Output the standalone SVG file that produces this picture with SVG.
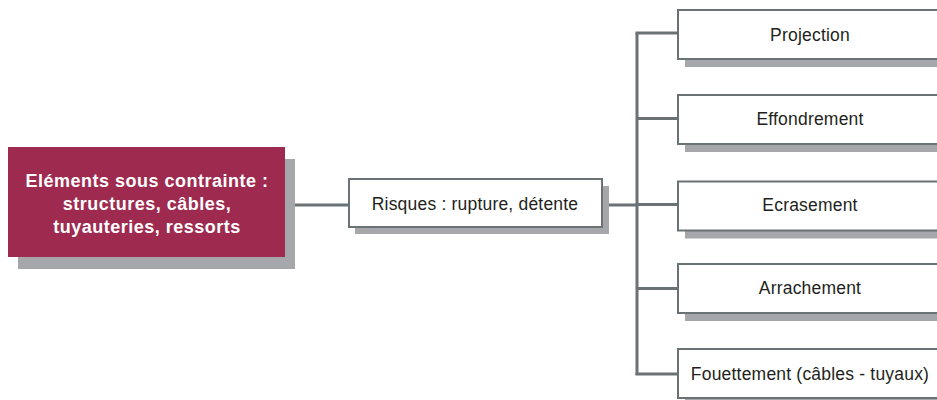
<svg xmlns="http://www.w3.org/2000/svg" width="937" height="400" viewBox="0 0 937 400">
  <style>
    .shadow { fill: #a6a7aa; }
    .box { fill: #ffffff; stroke: #6b7275; stroke-width: 2; }
    .main { fill: #9e2b4f; }
    .link { fill: none; stroke: #6b7275; stroke-width: 3; }
    .label { font-family: "Liberation Sans", Arial, sans-serif; font-size: 17.5px; letter-spacing: 0.2px; fill: #231f20; text-anchor: middle; }
    .title { font-family: "Liberation Sans", Arial, sans-serif; font-size: 18px; font-weight: bold; letter-spacing: 0.5px; fill: #ffffff; text-anchor: middle; }
  </style>

  <!-- connectors -->
  <g id="connectors">
    <line class="link" x1="285" y1="205" x2="348" y2="205"/>
    <line class="link" x1="602" y1="205" x2="637" y2="205"/>
    <line class="link" x1="637" y1="33" x2="637" y2="375"/>
    <line class="link" x1="635.5" y1="33" x2="677" y2="33"/>
    <line class="link" x1="637" y1="118.5" x2="677" y2="118.5"/>
    <line class="link" x1="637" y1="204.5" x2="677" y2="204.5"/>
    <line class="link" x1="637" y1="288.5" x2="677" y2="288.5"/>
    <line class="link" x1="635.5" y1="374" x2="677" y2="374"/>
  </g>

  <!-- root: stressed elements -->
  <g id="node-elements">
    <rect class="shadow" x="18" y="159" width="277" height="110"/>
    <rect class="main" x="8" y="147" width="277" height="110"/>
    <text class="title" x="147" y="187">Eléments sous contrainte :</text>
    <text class="title" x="147" y="210">structures, câbles,</text>
    <text class="title" x="147" y="233">tuyauteries, ressorts</text>
  </g>

  <!-- risks -->
  <g id="node-risques">
    <rect class="shadow" x="355" y="186" width="254" height="48"/>
    <rect class="box" x="349" y="179" width="253" height="48"/>
    <text class="label" x="475" y="209.5">Risques : rupture, détente</text>
  </g>

  <!-- consequences -->
  <g id="node-projection">
    <rect class="shadow" x="685" y="18" width="270" height="49"/>
    <rect class="box" x="678" y="10" width="270" height="49"/>
    <text class="label" x="810" y="40.5">Projection</text>
  </g>

  <g id="node-effondrement">
    <rect class="shadow" x="685" y="103" width="270" height="49"/>
    <rect class="box" x="678" y="95" width="270" height="49"/>
    <text class="label" x="810" y="125">Effondrement</text>
  </g>

  <g id="node-ecrasement">
    <rect class="shadow" x="685" y="189.5" width="270" height="49"/>
    <rect class="box" x="678" y="181.5" width="270" height="49"/>
    <text class="label" x="810" y="211">Ecrasement</text>
  </g>

  <g id="node-arrachement">
    <rect class="shadow" x="685" y="272" width="270" height="49"/>
    <rect class="box" x="678" y="264" width="270" height="49"/>
    <text class="label" x="810" y="294">Arrachement</text>
  </g>

  <g id="node-fouettement">
    <rect class="shadow" x="685" y="357" width="270" height="49"/>
    <rect class="box" x="678" y="349" width="270" height="49"/>
    <text class="label" x="810" y="379.5">Fouettement (câbles - tuyaux)</text>
  </g>
</svg>
